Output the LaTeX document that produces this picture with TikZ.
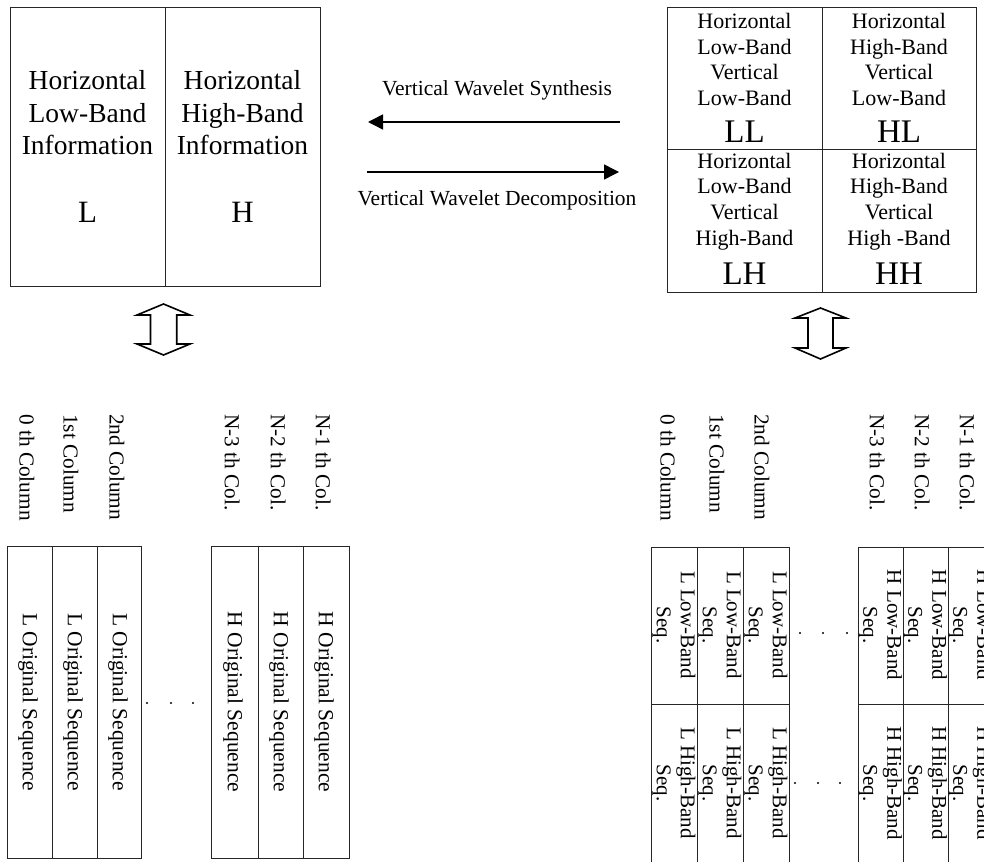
\documentclass[tikz,border=0pt]{standalone}
\usepackage{fontspec}
\setmainfont{Liberation Serif}
\usetikzlibrary{arrows.meta}
\begin{document}
\begin{tikzpicture}[x=1pt,y=-1pt,
  frame/.style={draw=black!85, line width=0.9pt},
  boxtext/.style={font=\fontsize{27.5}{32.5}\selectfont, align=center, inner sep=0pt},
  boxletter/.style={font=\fontsize{31}{36}\selectfont, inner sep=0pt},
  celltext/.style={font=\fontsize{22}{25.8}\selectfont, align=center, inner sep=0pt},
  cellletter/.style={font=\fontsize{33}{38}\selectfont, inner sep=0pt},
  arrowlabel/.style={font=\fontsize{21.5}{25}\selectfont, inner sep=0pt},
  collabel/.style={font=\fontsize{21.3}{25}\selectfont, rotate=-90, anchor=west, inner sep=0pt},
  striptext/.style={font=\fontsize{21.5}{25}\selectfont, rotate=-90, inner sep=0pt},
  subtext/.style={font=\fontsize{21}{24}\selectfont, rotate=-90, align=center, inner sep=0pt},
  flow/.style={line width=1.5pt, -{Triangle[length=15pt,width=15pt]}},
  dblarrow/.style={draw=black, line width=1.6pt, line join=miter},
  dotmark/.style={fill=black, draw=none}
]
\useasboundingbox (0,0) rectangle (984,861);
\clip (0,0) rectangle (984,861);

% ---------- top-left box ----------
\draw[frame] (10,7) rectangle (320,286);
\draw[frame] (165,7) -- (165,286);
\node[boxtext] (hl) at (87.5,113) {Horizontal\\Low-Band\\Information};
\node[boxtext] (hh) at (242.5,113) {Horizontal\\High-Band\\Information};
\node[boxletter] (Lb) at (87.5,212) {L};
\node[boxletter] (Hb) at (242.5,212) {H};

% ---------- arrows ----------
\coordinate (synR) at (620,122);
\coordinate (synL) at (368,122);
\coordinate (decL) at (367,172);
\coordinate (decR) at (619,172);
\draw[flow] (synR) -- (synL);
\draw[flow] (decL) -- (decR);
\node[arrowlabel] (syn) at (497,90) {Vertical Wavelet Synthesis};
\node[arrowlabel] (dec) at (497,200) {Vertical Wavelet Decomposition};

% ---------- top-right box ----------
\draw[frame] (667,7) rectangle (976,292);
\draw[frame] (822,7) -- (822,292);
\draw[frame] (667,149) -- (976,149);
\node[celltext] (llt) at (744.5,59.5) {Horizontal\\Low-Band\\Vertical\\Low-Band};
\node[celltext] (hlt) at (899,59.5) {Horizontal\\High-Band\\Vertical\\Low-Band};
\node[celltext] (lht) at (744.5,201.5) {Horizontal\\Low-Band\\Vertical\\High-Band};
\node[celltext] (hht) at (899,201.5) {Horizontal\\High-Band\\Vertical\\High -Band};
\node[cellletter] (LL) at (744.5,132) {LL};
\node[cellletter] (HL) at (899,132) {HL};
\node[cellletter] (LH) at (744.5,274) {LH};
\node[cellletter] (HH) at (899,274) {HH};

% ---------- double arrows ----------
\draw[dblarrow] (163.5,304) -- (190,315) -- (176.7,315) -- (176.7,344) -- (190,344)
  -- (163.5,355) -- (137,344) -- (150.5,344) -- (150.5,315) -- (137,315) -- cycle;
\draw[dblarrow] (820.5,308) -- (846,318) -- (833,318) -- (833,348) -- (846,348)
  -- (820.5,359) -- (795,348) -- (808,348) -- (808,318) -- (795,318) -- cycle;

% ---------- bottom-left column labels ----------
\node[collabel] (c0) at (27,414) {0 th Column};
\node[collabel] (c1) at (71,414) {1st Column};
\node[collabel] (c2) at (117,414) {2nd Column};
\node[collabel] (c3) at (232,414) {N-3 th Col.};
\node[collabel] (c4) at (278,414) {N-2 th Col.};
\node[collabel] (c5) at (323,414) {N-1 th Col.};

% ---------- bottom-left strips ----------
\draw[frame] (7,546) rectangle (141,858);
\draw[frame] (52,546) -- (52,858);
\draw[frame] (97,546) -- (97,858);
\draw[frame] (211,546) rectangle (349,858);
\draw[frame] (258,546) -- (258,858);
\draw[frame] (303,546) -- (303,858);
\node[striptext] (o0) at (28,702) {L Original Sequence};
\node[striptext] (o1) at (73,702) {L Original Sequence};
\node[striptext] (o2) at (118,702) {L Original Sequence};
\node[striptext] (o3) at (233,702) {H Original Sequence};
\node[striptext] (o4) at (279,702) {H Original Sequence};
\node[striptext] (o5) at (324,702) {H Original Sequence};
\fill[dotmark] (147,703) circle (1.2);
\fill[dotmark] (171,703) circle (1.2);
\fill[dotmark] (193,703) circle (1.2);

% ---------- bottom-right column labels ----------
\node[collabel] (d0) at (668,414) {0 th Column};
\node[collabel] (d1) at (717,414) {1st Column};
\node[collabel] (d2) at (762,414) {2nd Column};
\node[collabel] (d3) at (877,414) {N-3 th Col.};
\node[collabel] (d4) at (922,414) {N-2 th Col.};
\node[collabel] (d5) at (967,414) {N-1 th Col.};

% ---------- bottom-right strips ----------
\draw[frame] (651,547) -- (789,547);
\draw[frame] (651,704) -- (789,704);
\foreach \xx in {651,697,743,789} \draw[frame] (\xx,547) -- (\xx,862);
\draw[frame] (858,547) -- (1000,547);
\draw[frame] (858,704) -- (1000,704);
\foreach \xx in {858,903,948,993} \draw[frame] (\xx,547) -- (\xx,862);

\node[subtext] (a0) at (674,625) {L Low-Band\\Seq.};
\node[subtext] (a1) at (720,625) {L Low-Band\\Seq.};
\node[subtext] (a2) at (766,625) {L Low-Band\\Seq.};
\node[subtext] (a3) at (880.5,625) {H Low-Band\\Seq.};
\node[subtext] (a4) at (925.5,625) {H Low-Band\\Seq.};
\node[subtext] (a5) at (970.5,625) {H Low-Band\\Seq.};
\node[subtext] (b0) at (674,783) {L High-Band\\Seq.};
\node[subtext] (b1) at (720,783) {L High-Band\\Seq.};
\node[subtext] (b2) at (766,783) {L High-Band\\Seq.};
\node[subtext] (b3) at (880.5,783) {H High-Band\\Seq.};
\node[subtext] (b4) at (925.5,783) {H High-Band\\Seq.};
\node[subtext] (b5) at (970.5,783) {H High-Band\\Seq.};

\fill[dotmark] (800,633) circle (1.2);
\fill[dotmark] (823,633) circle (1.2);
\fill[dotmark] (847,633) circle (1.2);
\fill[dotmark] (795,783) circle (1.2);
\fill[dotmark] (818,783) circle (1.2);
\fill[dotmark] (840,783) circle (1.2);
\end{tikzpicture}
\end{document}
